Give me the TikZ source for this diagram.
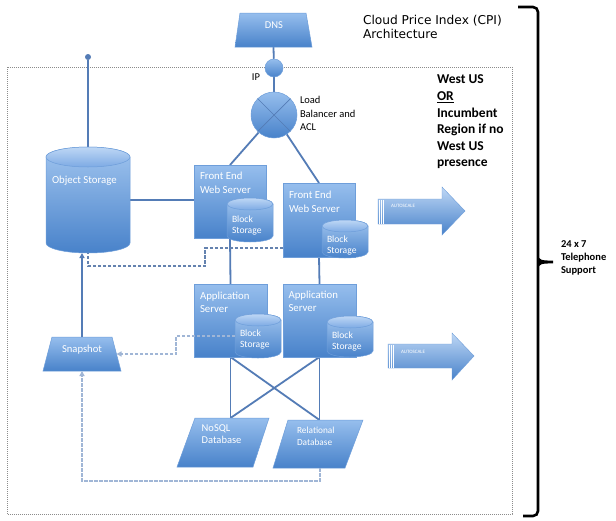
\documentclass[tikz,border=0pt]{standalone}
\usepackage{fontspec}
\setmainfont{Carlito}
\newfontfamily\titlefont{DejaVu Sans}
\usetikzlibrary{arrows.meta}
\definecolor{boxtop}{RGB}{150,190,237}
\definecolor{boxbot}{RGB}{72,130,202}
\definecolor{boxedge}{RGB}{110,158,218}
\definecolor{drumtopA}{RGB}{190,215,245}
\definecolor{drumtopB}{RGB}{125,170,228}
\definecolor{linkc}{RGB}{84,124,182}
\definecolor{dashdark}{RGB}{100,130,175}
\definecolor{dashlight}{RGB}{160,182,214}
\definecolor{regiongray}{RGB}{140,140,140}
\pgfdeclarelayer{bg}
\pgfsetlayers{bg,main}
% #1 name, #2 x1, #3 y1, #4 x2, #5 y2, #6 ry
\newcommand\mydrum[6]{%
  \pgfmathsetmacro\drumcx{(#2+#4)/2}%
  \pgfmathsetmacro\drumrx{(#4-#2)/2}%
  \path[drumbody] (#2,#3+#6) -- (#2,#5-#6)
     arc[start angle=180,end angle=0,x radius=\drumrx,y radius=#6]
     -- (#4,#3+#6)
     arc[start angle=0,end angle=-180,x radius=\drumrx,y radius=#6] -- cycle;
  \path[drumtop] (\drumcx,#3+#6) ellipse[x radius=\drumrx,y radius=#6];
  \node[anchorbox,minimum width=#4-#2,minimum height=#5-#3,anchor=north west] (#1) at (#2,#3) {};
}
\begin{document}
\begin{tikzpicture}[x=1pt,y=-1pt,
  shapefill/.style={top color=boxtop,bottom color=boxbot,draw=boxedge,line width=0.5pt},
  drumbody/.style={top color=boxtop!90!white,bottom color=boxbot,draw=boxedge,line width=0.5pt},
  drumtop/.style={top color=drumtopA,bottom color=drumtopB,draw=boxedge,line width=0.5pt},
  server/.style={shapefill,rectangle,inner sep=0pt,outer sep=0pt},
  anchorbox/.style={rectangle,inner sep=0pt,outer sep=0pt,draw=none},
  link/.style={draw=linkc,line width=1.8pt},
  darkdash/.style={draw=dashdark,line width=2pt,dash pattern=on 3.5pt off 1.5pt},
  lightdash/.style={draw=dashlight,line width=2pt,dash pattern=on 3.5pt off 1.5pt},
  wtext/.style={text=white,inner sep=0pt,outer sep=0pt,align=left,anchor=north west,font=\fontsize{10.8}{13.5}\selectfont},
  btext/.style={text=black,inner sep=0pt,outer sep=0pt,align=left,anchor=north west},
  autofill/.style={top color=drumtopA,bottom color=boxbot,draw=boxedge,line width=0.4pt},
]
\useasboundingbox (0,0) rectangle (616,520);

% ---------- shapes ----------
% DNS
\path[shapefill] (240,13) -- (306,13) -- (312,47) -- (235,47) -- cycle;
\node[anchorbox,minimum width=77,minimum height=34,anchor=north west] (dns) at (235,13) {};
% IP and load balancer
\node[circle,shapefill,inner sep=0pt,minimum size=18] (ip) at (274,68) {};
\node[circle,shapefill,inner sep=0pt,minimum size=46] (lb) at (274,115) {};
\draw[linkc,line width=0.7pt] (lb.north west) -- (lb.south east) (lb.north east) -- (lb.south west);
% top dot
\node[circle,fill=linkc,inner sep=0pt,minimum size=6] (dot) at (88,57) {};
% object storage
\mydrum{obj}{46}{147}{130}{253}{10}
% front end servers
\node[server,anchor=north west,minimum width=72,minimum height=73] (fe1) at (194,165) {};
\mydrum{bs1}{227}{198}{273}{242}{6}
\node[server,anchor=north west,minimum width=72,minimum height=74] (fe2) at (283,183) {};
\mydrum{bs2}{322}{220}{368}{258}{6}
% application servers
\node[server,anchor=north west,minimum width=73,minimum height=73] (app1) at (194,284) {};
\mydrum{bs3}{235}{314}{281}{358}{6}
\node[server,anchor=north west,minimum width=73,minimum height=73] (app2) at (283,284) {};
\mydrum{bs4}{327}{316}{373}{357}{6}
% snapshot
\path[shapefill] (52,337) -- (112,337) -- (121,371) -- (43,371) -- cycle;
\node[anchorbox,minimum width=78,minimum height=34,anchor=north west] (snap) at (43,337) {};
% databases
\path[shapefill] (195,418) -- (269,418) -- (253,467) -- (177,467) -- cycle;
\node[anchorbox,minimum width=92,minimum height=49,anchor=north west] (nosql) at (177,418) {};
\path[shapefill] (288,420) -- (363,420) -- (345,468) -- (273,468) -- cycle;
\node[anchorbox,minimum width=90,minimum height=48,anchor=north west] (rel) at (273,420) {};
% autoscale arrows
\path[autofill] (378,199) -- (442,199) -- (442,187) -- (465,211) -- (442,235) -- (442,224) -- (378,224) -- cycle;
\foreach \s in {1.5,3.5,5.5} \draw[white,line width=0.5pt] (378+\s,199.5) -- (378+\s,223.5);
\path[autofill] (388,344) -- (452,344) -- (452,333) -- (474,356) -- (452,380) -- (452,368) -- (388,368) -- cycle;
\foreach \s in {1.5,3.5,5.5} \draw[white,line width=0.5pt] (388+\s,344.5) -- (388+\s,367.5);

% ---------- solid connectors (behind shapes) ----------
\begin{pgfonlayer}{bg}
\fill[white] (0,0) rectangle (616,520);
\draw[regiongray,line width=0.7pt,dash pattern=on 0.8pt off 1.2pt] (7,67) rectangle (512,514);
\draw[link] (dns.south) -- (ip);
\draw[link] (ip) -- (lb);
\draw[link] (lb) -- (fe1.north);
\draw[link] (lb) -- (fe2.north);
\draw[link] (dot) -- (obj.north);
\draw[link] (obj.east) -- (obj.east -| fe1.west);
\draw[link] (fe1.south) -- (app1.north);
\draw[link] (fe2.south) -- (app2.north);
\draw[link] (app1.south) -- (app1.south |- nosql.north);
\draw[link] (app2.south) -- (app2.south |- rel.north);
\draw[link] (app1.south) -- (app2.south |- rel.north);
\draw[link] (app2.south) -- (app1.south |- nosql.north);
\end{pgfonlayer}

% ---------- arrows and dashed connectors ----------
\draw[link,-{Triangle[length=5pt,width=5pt]}] (snap.north) -- (snap.north |- obj.south);
\draw[darkdash] (fe2.west |- 0,248) -| (205,266) -| (obj.south);
\draw[lightdash,-{Triangle[length=5pt,width=5pt]}] (bs3.west) -| (176,354) -- ([xshift=-4.5pt]snap.east);
\draw[lightdash,-{Triangle[length=5pt,width=5pt]}] (app2.south |- rel.south) -- ++(0,13) -| (snap.south);

% ---------- texts ----------
\node[wtext,anchor=center,font=\fontsize{10.5}{12}\selectfont] (dnst) at (274,25.5) {DNS};
\node[btext,anchor=center,font=\fontsize{10.5}{12}\selectfont] (ipt) at (256,77.5) {IP};
\node[btext,font=\fontsize{10.5}{13.5}\selectfont] (lbt) at (300,96.3) {Load\\Balancer and\\ACL};
\node[wtext] (objt) at (52,176) {Object Storage};
\node[wtext] (fe1t) at (200,172.3) {Front End\\Web Server};
\node[wtext] (fe2t) at (289,191.3) {Front End\\Web Server};
\node[wtext] (app1t) at (200,291.6) {Application\\Server};
\node[wtext] (app2t) at (288.5,290.5) {Application\\Server};
\node[wtext,font=\fontsize{9.6}{11}\selectfont] (bs1t) at (232,216.3) {Block\\Storage};
\node[wtext,font=\fontsize{9.6}{11}\selectfont] (bs2t) at (327,235.7) {Block\\Storage};
\node[wtext,font=\fontsize{9.6}{11}\selectfont] (bs3t) at (240,329.7) {Block\\Storage};
\node[wtext,font=\fontsize{9.6}{11}\selectfont] (bs4t) at (332,332.3) {Block\\Storage};
\node[wtext,anchor=center,font=\fontsize{10.6}{12}\selectfont] (snapt) at (82,350) {Snapshot};
\node[wtext,font=\fontsize{10.5}{12.5}\selectfont] (nosqlt) at (201.7,424.6) {NoSQL\\Database};
\node[wtext,font=\fontsize{9.3}{11.5}\selectfont] (relt) at (297,427.3) {Relational\\Database};
\node[wtext,anchor=west,font=\fontsize{5}{6}\selectfont] (as1t) at (391,206) {AUTOSCALE};
\node[wtext,anchor=west,font=\fontsize{5}{6}\selectfont] (as2t) at (401,352) {AUTOSCALE};
\node[btext,font=\titlefont\fontsize{12.2}{14}\selectfont] (title) at (363,15.5) {Cloud Price Index (CPI)\\Architecture};
\node[btext,font=\fontsize{13.5}{16.6}\selectfont\bfseries] (region) at (437,75) {West US\\\underline{OR}\\Incumbent\\Region if no\\West US\\presence};
\node[btext,font=\fontsize{10.5}{13}\selectfont\bfseries] (support) at (561,240.7) {24 x 7\\Telephone\\Support};

% ---------- brace ----------
\draw[line width=2.6pt,rounded corners=5pt] (518,7) -- (538,7) -- (538,516) -- (523,516);
\fill (538,255) .. controls (539,260) and (541,260.6) .. (553,260.6) -- (553,263.4) .. controls (541,263.4) and (539,264) .. (538,269) -- cycle;
\end{tikzpicture}
\end{document}
